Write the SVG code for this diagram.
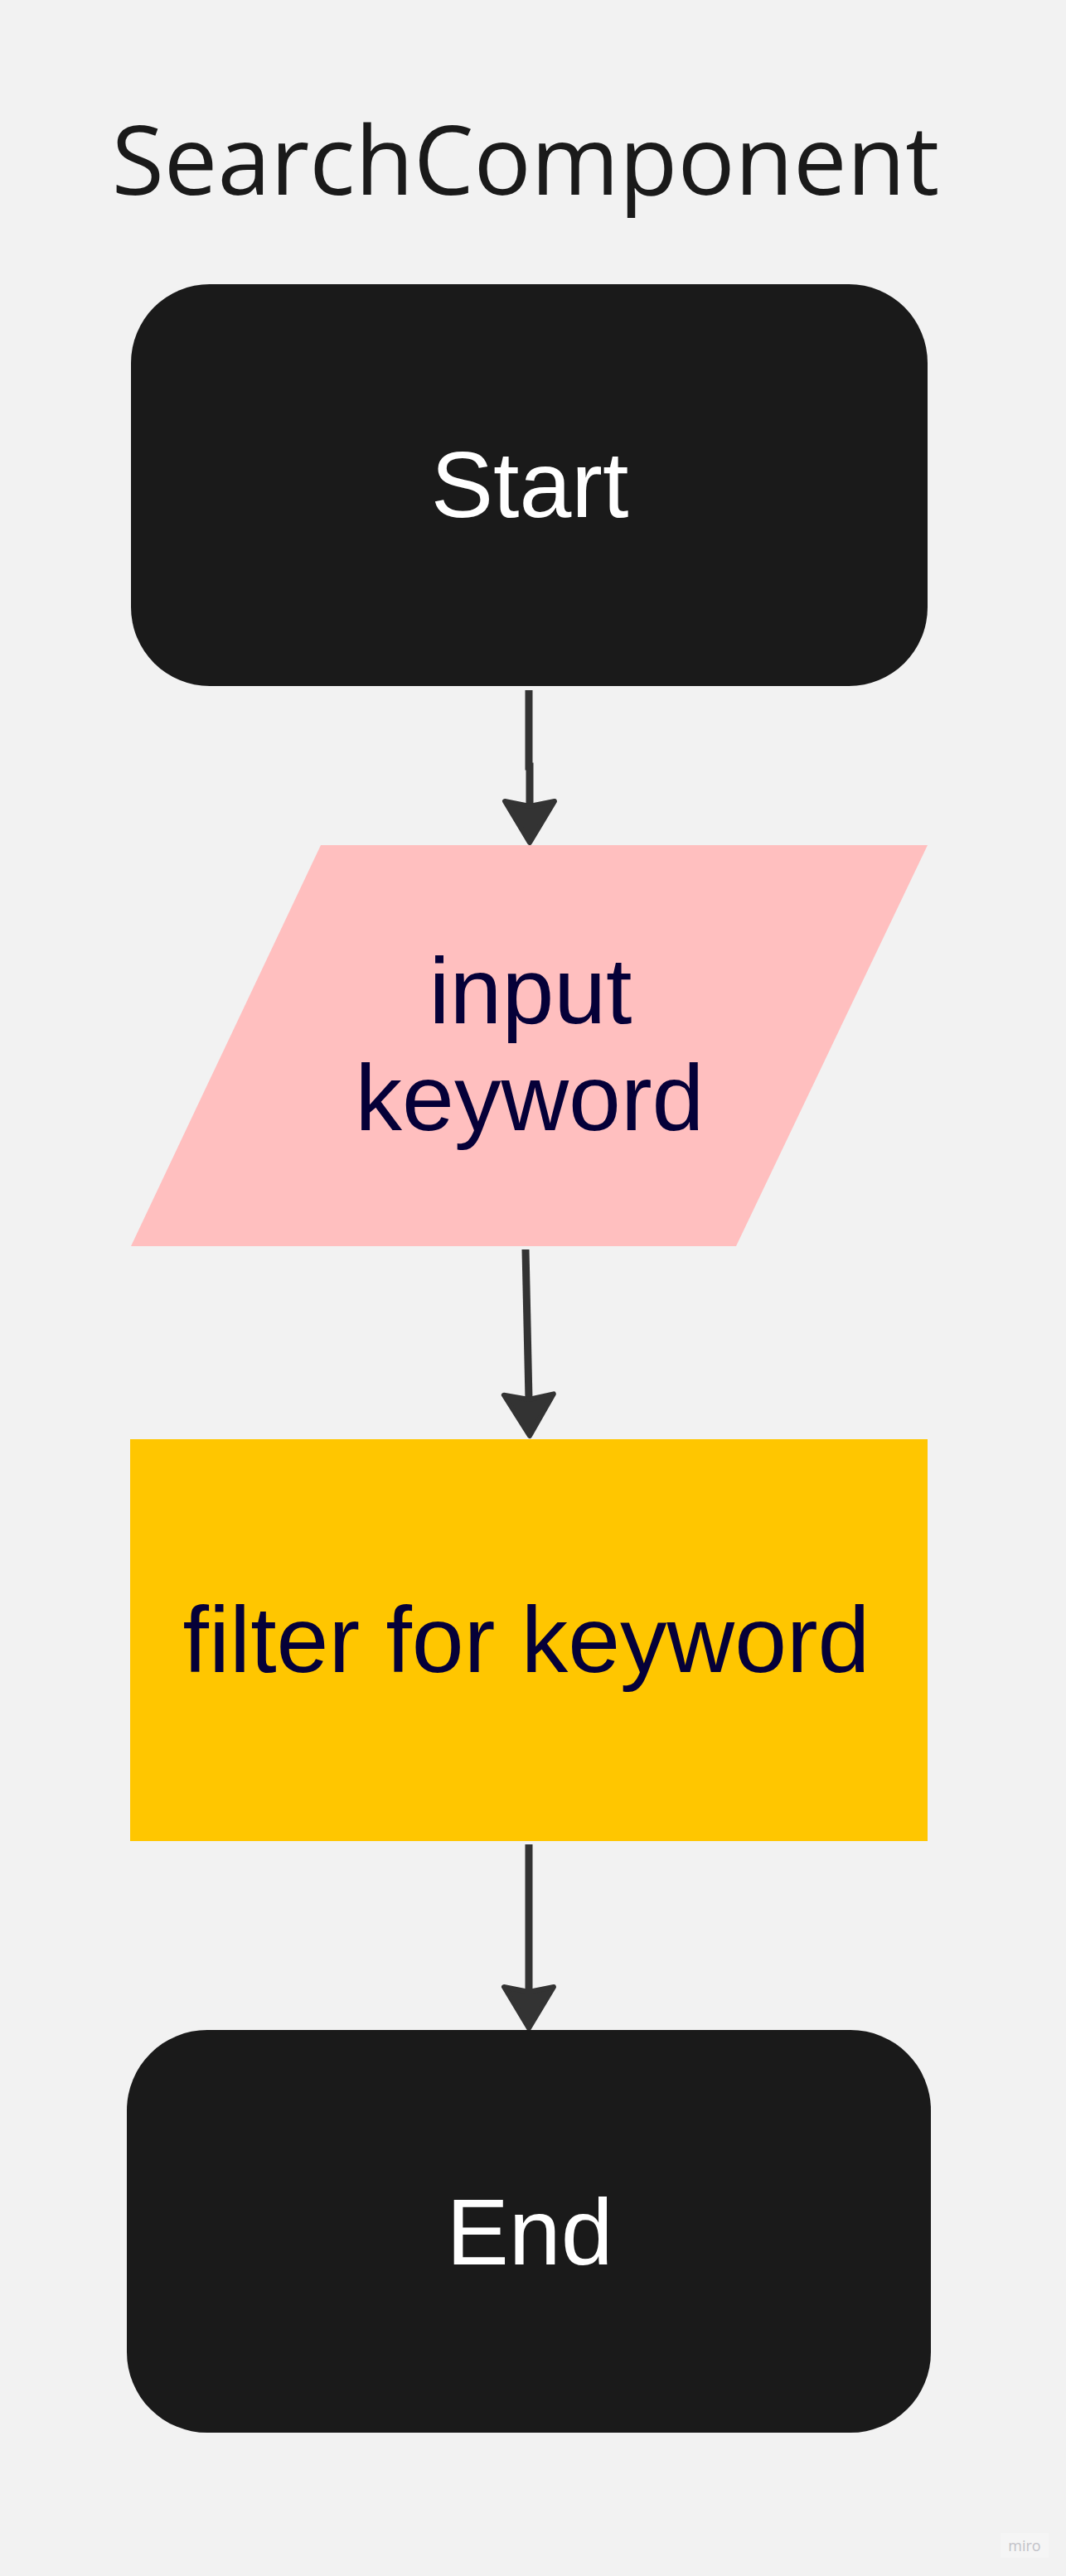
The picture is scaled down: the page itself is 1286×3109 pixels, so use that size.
<svg xmlns="http://www.w3.org/2000/svg" width="1286" height="3109" viewBox="0 0 1286 3109">
<style>
.label{font-family:"Liberation Sans",Arial,sans-serif;font-size:113px;text-anchor:middle}
.terminal{fill:#1a1a1a}
.conn{stroke:#333333;stroke-width:9;fill:none}
</style>
<defs>
<marker id="head" markerUnits="userSpaceOnUse" viewBox="-60 -60 120 120" markerWidth="120" markerHeight="120" refX="0" refY="0" orient="auto" overflow="visible">
<path d="M -6 -30 L 44 0 L -6 30 L 0 0 Z" fill="#333333" stroke="#333333" stroke-width="6" stroke-linejoin="round"/>
</marker>
</defs>
<rect x="0" y="0" width="1286" height="3109" fill="#f2f2f2"/>
<text x="634" y="235" font-family="'Open Sans','Noto Sans',sans-serif" font-size="115" fill="#1a1a1a" text-anchor="middle">SearchComponent</text>
<g id="connectors">
<path class="conn" d="M 638 833 L 638 925 L 639 925 L 639 973" marker-end="url(#head)"/>
<path class="conn" d="M 634 1508 L 638 1689" marker-end="url(#head)"/>
<path class="conn" d="M 638 2226 L 638 2404" marker-end="url(#head)"/>
</g>
<g id="start">
<rect class="terminal" x="158" y="343" width="961" height="485" rx="95" ry="95"/>
<text class="label" x="639" y="624" fill="#ffffff">Start</text>
</g>
<g id="input">
<polygon points="387,1020 1119,1020 888,1504 158,1504" fill="#ffbfbf"/>
<text class="label" x="640" y="1235" fill="#050038">input</text>
<text class="label" x="639" y="1364" fill="#050038">keyword</text>
</g>
<g id="filter">
<rect x="157" y="1737" width="962" height="485" fill="#ffc600"/>
<text class="label" x="635" y="2018" fill="#050038">filter for keyword</text>
</g>
<g id="end">
<rect class="terminal" x="153" y="2450" width="970" height="486" rx="97" ry="97"/>
<text class="label" x="639" y="2733" fill="#ffffff">End</text>
</g>
<rect x="1207" y="3057" width="58" height="30" fill="#f5f5f5"/>
<text x="1236" y="3079" font-family="'Open Sans','Noto Sans',sans-serif" font-size="18" fill="#c2c2c8" text-anchor="middle">miro</text>
</svg>
